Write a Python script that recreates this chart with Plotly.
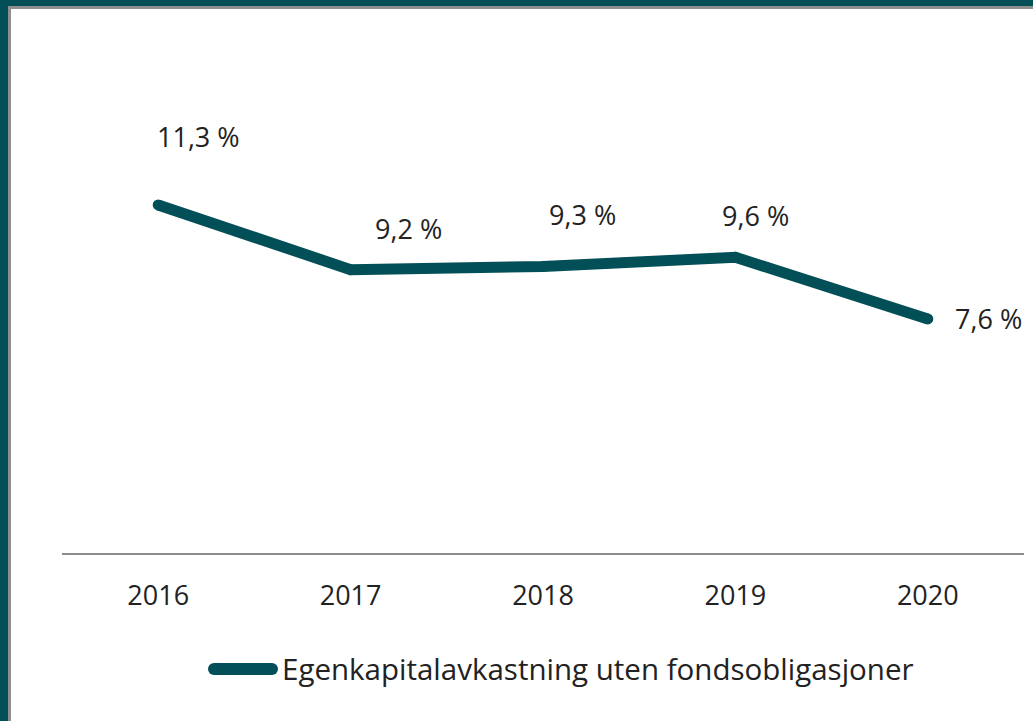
import plotly.graph_objects as go

years = ["2016", "2017", "2018", "2019", "2020"]
values = [11.3, 9.2, 9.3, 9.6, 7.6]
labels = ["11,3 %", "9,2 %", "9,3 %", "9,6 %", "7,6 %"]
series_name = "Egenkapitalavkastning uten fondsobligasjoner"

W, H = 1033, 721
ML, MR, MT, MB = 62, 9, 91, 168
PW, PH = W - ML - MR, H - MT - MB

TEAL = "#034f57"
TEXT = "#222222"
FONT = "Open Sans"

def px(xp):
    return (xp - ML) / PW

def py(yp):
    return 1 - (yp - MT) / PH

# label offsets in pixels (x, y) relative to the point
offsets = [(40, 68), (58, 41), (39, 52), (20, 42), (61, 0)]

fig = go.Figure()
fig.add_trace(go.Scatter(
    x=years, y=values, mode="lines+markers",
    line=dict(color=TEAL, width=11),
    marker=dict(color=TEAL, size=11, line=dict(width=0)),
    name=series_name, showlegend=False, cliponaxis=False, hoverinfo="skip",
))

annotations = []
for i, (v, lab, (dx, dy)) in enumerate(zip(values, labels, offsets)):
    annotations.append(dict(
        x=i, y=v, xref="x", yref="y", text=lab, showarrow=False,
        xshift=dx, yshift=dy, font=dict(family=FONT, size=27, color=TEXT),
    ))

# legend text
annotations.append(dict(
    x=px(280), y=py(668), xref="paper", yref="paper", text=series_name,
    showarrow=False, xanchor="left", yanchor="middle",
    font=dict(family=FONT, size=29.5, color=TEXT),
))

r = 6  # legend sample half-thickness
shapes = [
    # frame
    dict(type="rect", xref="paper", yref="paper", x0=px(0), x1=px(8), y0=py(H), y1=py(0),
         fillcolor=TEAL, line=dict(width=0), layer="below"),
    dict(type="rect", xref="paper", yref="paper", x0=px(0), x1=px(W), y0=py(6), y1=py(0),
         fillcolor=TEAL, line=dict(width=0), layer="below"),
    dict(type="rect", xref="paper", yref="paper", x0=px(8), x1=px(11), y0=py(H), y1=py(6),
         fillcolor="#8f8f8f", line=dict(width=0), layer="below"),
    dict(type="rect", xref="paper", yref="paper", x0=px(8), x1=px(W), y0=py(9), y1=py(6),
         fillcolor="#8f8f8f", line=dict(width=0), layer="below"),
    # legend sample (rounded bar)
    dict(type="rect", xref="paper", yref="paper", x0=px(214), x1=px(272),
         y0=py(669 + r), y1=py(669 - r), fillcolor=TEAL, line=dict(width=0)),
    dict(type="circle", xref="paper", yref="paper", x0=px(208), x1=px(208 + 2 * r),
         y0=py(669 + r), y1=py(669 - r), fillcolor=TEAL, line=dict(width=0)),
    dict(type="circle", xref="paper", yref="paper", x0=px(278 - 2 * r), x1=px(278),
         y0=py(669 + r), y1=py(669 - r), fillcolor=TEAL, line=dict(width=0)),
]

fig.update_layout(
    width=W, height=H,
    margin=dict(l=ML, r=MR, t=MT, b=MB, pad=0),
    paper_bgcolor="white", plot_bgcolor="white",
    xaxis=dict(type="category", range=[-0.5, 4.5], showgrid=False, zeroline=False,
               showline=True, linecolor="#8c8c8c", linewidth=2, ticks="",
               tickfont=dict(family=FONT, size=27, color=TEXT), ticklabelstandoff=18),
    yaxis=dict(range=[0, 15], showgrid=False, zeroline=False, showticklabels=False,
               showline=False),
    annotations=annotations, shapes=shapes, showlegend=False,
)

fig.write_html("out.html", config={"displayModeBar": False},
               post_script="document.body.style.margin='0';")
